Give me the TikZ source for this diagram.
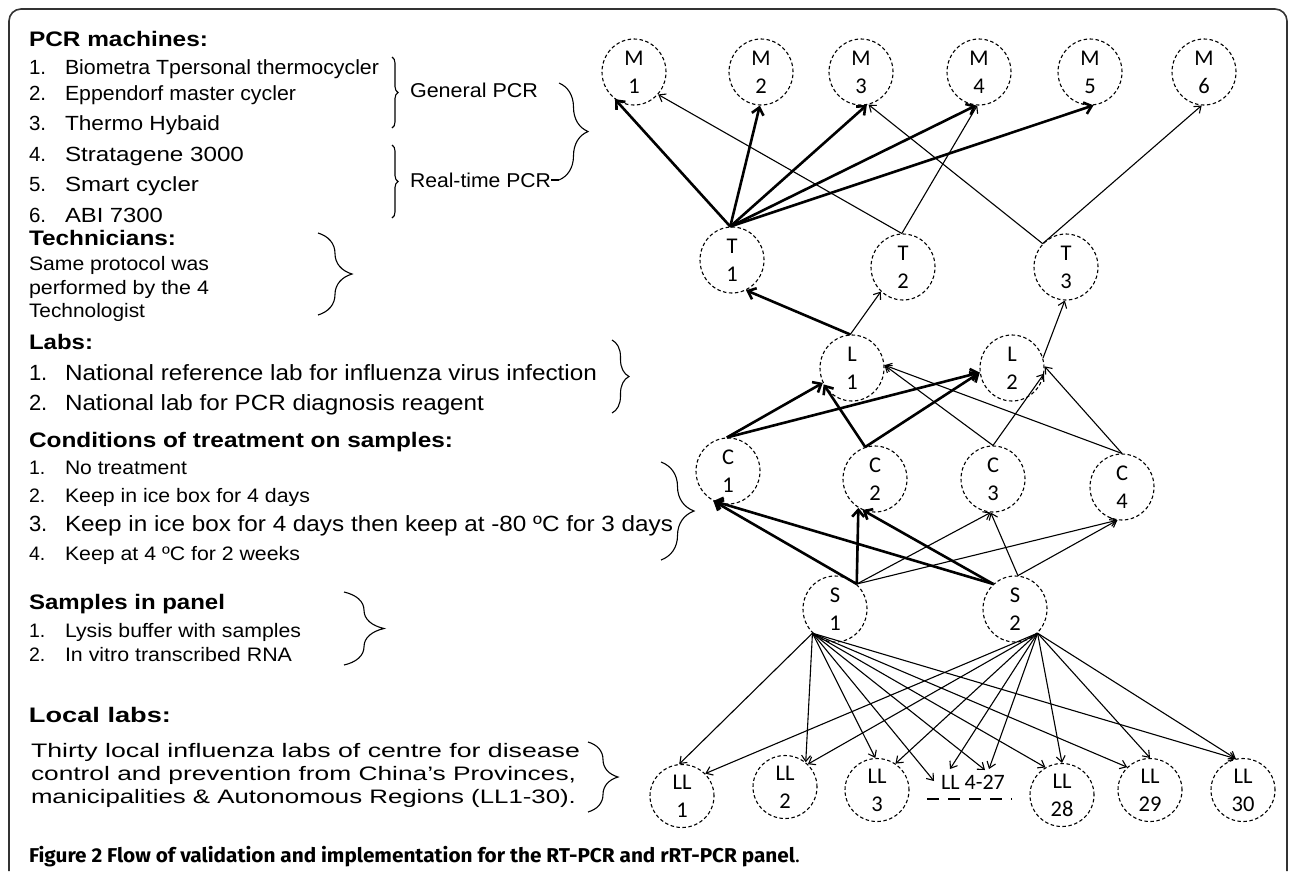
\documentclass[tikz,border=0pt]{standalone}
\usepackage{fontspec}
\usepackage{graphicx}
\setmainfont{Liberation Sans}
\newfontfamily\nodefont{Carlito}
\newfontfamily\capfont{Fira Sans}
\usetikzlibrary{shapes.geometric,arrows.meta,decorations.pathreplacing}
\newcommand{\fw}[2]{\resizebox{#1pt}{\height}{#2}}
\begin{document}
\begin{tikzpicture}[x=1pt,y=-1pt,
  tx/.style={anchor=base west, inner sep=0pt, outer sep=0pt},
  hd/.style={tx, font=\bfseries\fontsize{21}{25}\selectfont},
  it/.style={tx, font=\fontsize{#1}{24}\selectfont},
  nd/.style={ellipse, draw=black, dash pattern=on 3.5pt off 2.5pt, line width=1.1pt,
     minimum width=64pt, minimum height=66pt, inner sep=0pt, align=center,
     font=\nodefont\fontsize{22.5}{28}\selectfont},
  ndl/.style={nd, minimum height=63pt},
  thn/.style={line width=1.1pt, -{Straight Barb[length=6pt,width=9pt]}},
  thk/.style={line width=2.6pt, -{Straight Barb[length=7pt,width=12pt]}},
  brc/.style={decorate, decoration={brace, amplitude=#1}, line width=1.1pt},
  uline/.style={line width=2.8pt, dash pattern=on 12pt off 9pt},
  frm/.style={line width=1.6pt, black!80, rounded corners=12pt}
]
\fill[white] (0,0) rectangle (1292,871);
\useasboundingbox (0,0) rectangle (1292,871);
\draw[frm] (9,871) -- (9,9) -- (1287,9) -- (1287,871);

% ---------- left texts ----------
\node[hd] (h1) at (29,46) {\fw{179}{PCR machines:}};
\foreach \n/\yy/\w/\t in {1/74/314/Biometra Tpersonal thermocycler,
  2/100/231/Eppendorf master cycler, 3/130/155/Thermo Hybaid,
  4/161/179/Stratagene 3000, 5/191/134/Smart cycler, 6/222/98/ABI 7300}{
  \node[it=20.5] (pn\n) at (29,\yy) {\n.};
  \node[it=20.5] (pt\n) at (65,\yy) {\fw{\w}{\t}};
}
\node[it=20] (gen) at (410,97) {\fw{128}{General PCR}};
\node[it=20] (rt) at (410,187) {\fw{141}{Real-time PCR}};

\node[hd] (h2) at (29,245.5) {\fw{147}{Technicians:}};
\node[it=19.5] (tc1) at (29,270) {\fw{180}{Same protocol was}};
\node[it=19.5] (tc2) at (29,294) {\fw{180}{performed by the 4}};
\node[it=19.5] (tc3) at (29,317) {\fw{116}{Technologist}};

\node[hd] (h3) at (29,349.5) {\fw{64}{Labs:}};
\node[it=22] (ln1) at (29,380) {1.};
\node[it=22] (lt1) at (65,380) {\fw{532}{National reference lab for influenza virus infection}};
\node[it=22] (ln2) at (29,410) {2.};
\node[it=22] (lt2) at (65,410) {\fw{419}{National lab for PCR diagnosis reagent}};

\node[hd] (h4) at (29,447.5) {\fw{424}{Conditions of treatment on samples:}};
\node[it=19.5] (cn1) at (29,474) {1.};
\node[it=19.5] (ct1) at (65,474) {\fw{122}{No treatment}};
\node[it=19.5] (cn2) at (29,502) {2.};
\node[it=19.5] (ct2) at (65,502) {\fw{245}{Keep in ice box for 4 days}};
\node[it=22] (cn3) at (29,531) {3.};
\node[it=22] (ct3) at (65,531) {\fw{608}{Keep in ice box for 4 days then keep at -80 ºC for 3 days}};
\node[it=19.5] (cn4) at (29,560) {4.};
\node[it=19.5] (ct4) at (65,560) {\fw{235}{Keep at 4 ºC for 2 weeks}};

\node[hd] (h5) at (29,609.5) {\fw{196}{Samples in panel}};
\node[it=19.5] (sn1) at (29,637) {1.};
\node[it=19.5] (st1) at (65,637) {\fw{236}{Lysis buffer with samples}};
\node[it=19.5] (sn2) at (29,661) {2.};
\node[it=19.5] (st2) at (65,661) {\fw{227}{In vitro transcribed RNA}};

\node[hd] (h6) at (29,722) {\fw{142}{Local labs:}};
\node[it=19.5] (lc1) at (31,757) {\fw{549}{Thirty local influenza labs of centre for disease}};
\node[it=19.5] (lc2) at (31,780) {\fw{545}{control and prevention from China’s Provinces,}};
\node[it=19.5] (lc3) at (31,803) {\fw{545}{manicipalities \& Autonomous Regions (LL1-30).}};

\node[tx, font=\capfont\fontsize{20}{24}\selectfont] (cap) at (29,862)
  {\fw{766}{\bfseries Figure 2 Flow of validation and implementation for the RT-PCR and rRT-PCR panel}.};

% ---------- braces ----------
\draw[brc=6pt] (392,57) -- (392,128);
\draw[brc=6pt] (392,145) -- (392,218);
\draw[brc=29pt] (559,83) -- (559,180);
\draw[line width=1.1pt] (rt.east |- 0,180) -- (559,180);
\draw[brc=34pt] (318,233) -- (318,315);
\draw[brc=17pt] (612,340) -- (612,413);
\draw[brc=33pt] (661,462) -- (661,560);
\draw[brc=40pt] (344,592) -- (344,665);
\draw[brc=30pt] (588,742) -- (588,812);

% ---------- graph nodes ----------
\node[nd] (M1) at (634,72) {M\\1};
\node[nd] (M2) at (761,72) {M\\2};
\node[nd] (M3) at (861,72) {M\\3};
\node[nd] (M4) at (979,72) {M\\4};
\node[nd] (M5) at (1090,72) {M\\5};
\node[nd] (M6) at (1204,72) {M\\6};
\node[nd] (T1) at (732,260) {T\\1};
\node[nd] (T2) at (903,267) {T\\2};
\node[nd] (T3) at (1066,267) {T\\3};
\node[nd] (L1) at (852,368) {L\\1};
\node[nd] (L2) at (1012,368) {L\\2};
\node[nd] (C1) at (728,471) {C\\1};
\node[nd] (C2) at (875,479) {C\\2};
\node[nd] (C3) at (993,479) {C\\3};
\node[nd] (C4) at (1122,487) {C\\4};
\node[nd] (S1) at (835,609) {S\\1};
\node[nd] (S2) at (1015,609) {S\\2};
\node[ndl] (LL1) at (682,796) {LL\\1};
\node[ndl] (LL2) at (785,787) {LL\\2};
\node[ndl] (LL3) at (877,790) {LL\\3};
\node[ndl] (LL28) at (1062,795) {LL\\28};
\node[ndl] (LL29) at (1150,790) {LL\\29};
\node[ndl] (LL30) at (1243,790) {LL\\30};
\node[inner sep=0pt, font=\nodefont\fontsize{22}{24}\selectfont] (LLm) at (973,782) {LL 4-27};
\coordinate (dA) at (927,799);
\coordinate (dB) at (1012,799);
\draw[uline] (dA) -- (dB);
\coordinate (tA) at (934,781);
\coordinate (tB) at (985,770);
\coordinate (tC) at (950,769);
\coordinate (tD) at (989,769);

% ---------- T -> M ----------
\draw[thk] (T1.93) -- (M1.235);
\draw[thk] (T1.93) -- (M2.268);
\draw[thk] (T1.93) -- (M3.280);
\draw[thk] (T1.93) -- (M4.265);
\draw[thk] (T1.93) -- (M5.276);
\draw[thn] (T2.92) -- (M1.317);
\draw[thn] (T2.92) -- (M4.267);
\draw[thn] (T3.135) -- (M3.283);
\draw[thn] (T3.135) -- (M6.266);

% ---------- L -> T ----------
\draw[thk] (L1.93) -- (T1.295);
\draw[thn] (L1.93) -- (T2.228);
\draw[thn] (L2.18) -- (T3.268);

% ---------- C -> L ----------
\draw[thk] (C1.92) -- (L1.207);
\draw[thk] (C1.92) -- (L2.188);
\draw[thk] (C2.107) -- (L1.210);
\draw[thk] (C2.107) -- (L2.188);
\draw[thn] (C3.90) -- (L1.5);
\draw[thn] (C3.90) -- (L2.350);
\draw[thn] (C4.90) -- (L1.5);
\draw[thn] (C4.90) -- (L2.3);

% ---------- S -> C ----------
\draw[thk] (S1.49) -- (C1.244);
\draw[thk] (S1.49) -- (C2.240);
\draw[thn] (S1.49) -- (C3.266);
\draw[thn] (S1.49) -- (C4.262);
\draw[thk] (S2.131) -- (C1.244);
\draw[thk] (S2.131) -- (C2.248);
\draw[thn] (S2.85) -- (C3.266);
\draw[thn] (S2.85) -- (C4.262);

% ---------- S -> LL ----------
\foreach \t in {LL1.95, LL2.50, LL3.93, tA, tB, LL28.121, LL29.135, LL30.103}
  \draw[thn] (S1.227) -- (\t);
\foreach \t in {LL1.44, LL2.45, LL3.55, tC, tD, LL28.90, LL29.90, LL30.103}
  \draw[thn] (S2.313) -- (\t);
\end{tikzpicture}
\end{document}
